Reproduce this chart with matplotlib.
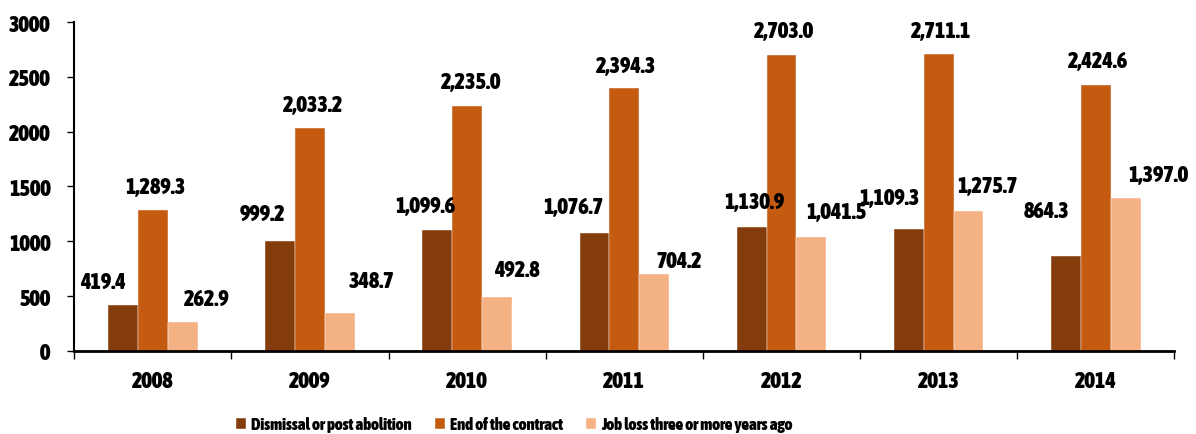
import numpy as np
import matplotlib
matplotlib.use("Agg")
from matplotlib import pyplot as plt
from matplotlib import font_manager

# pick a narrow/condensed bold font if one is installed
def is_bold(f):
    wt = f.weight
    if isinstance(wt, str):
        return wt in ("bold", "heavy", "black", "demibold", "semibold", "extra bold")
    return wt >= 600

fonts = font_manager.fontManager.ttflist
narrow_bold = [f for f in fonts if ("Narrow" in f.name or "Condensed" in f.name) and is_bold(f)]
narrow_any = [f for f in fonts if ("Narrow" in f.name or "Condensed" in f.name)]
fam_file = None
if narrow_bold:
    fam_file = narrow_bold[0].fname
elif narrow_any:
    fam_file = narrow_any[0].fname

years = ["2008", "2009", "2010", "2011", "2012", "2013", "2014"]
dismissal = [419.4, 999.2, 1099.6, 1076.7, 1130.9, 1109.3, 864.3]
end_contract = [1289.3, 2033.2, 2235.0, 2394.3, 2703.0, 2711.1, 2424.6]
job_loss = [262.9, 348.7, 492.8, 704.2, 1041.5, 1275.7, 1397.0]
series_names = ["Dismissal or post abolition", "End of the contract", "Job loss three or more years ago"]
colors = ["#843C0C", "#C55A11", "#F4B183"]

# label placement (pixels from top-centre of each bar), as in the original
lab_dx = [[-20, -18, -12, -21, 3, -19, -19],
          [3, 3, 4, 2, 2, 2, 2],
          [24, 32, 20, 25, 25, 19, 33]]
lab_dy = [[23, 27, 24, 26, 25, 31, 45],
          [23, 23, 24, 22, 24, 23, 24],
          [23, 32, 27, 13, 25, 25, 23]]

fs, lfs = 16, 12
if fam_file:
    def fp(size):
        return font_manager.FontProperties(fname=fam_file, size=size, weight="bold")
else:
    fs, lfs = 12, 9
    def fp(size):
        return font_manager.FontProperties(family="DejaVu Sans", size=size, weight="bold")

fig = plt.figure(figsize=(11.96, 4.35), dpi=100)
ax = fig.add_axes([0.062, 0.191, 0.92, 0.756])

x = np.arange(len(years))
w = 0.19
series = [dismissal, end_contract, job_loss]
for i, vals in enumerate(series):
    bars = ax.bar(x + (i - 1) * w, vals, w, color=colors[i], label=series_names[i],
                  edgecolor="white", linewidth=0.3)
    for j, (b, v) in enumerate(zip(bars, vals)):
        ax.annotate(f"{v:,.1f}", (b.get_x() + b.get_width() / 2, v),
                    xytext=(lab_dx[i][j], lab_dy[i][j]), textcoords="offset pixels",
                    ha="center", va="center", fontproperties=fp(fs), annotation_clip=False)

ax.set_xlim(-0.5, len(years) - 0.5)
ax.set_ylim(0, 3000)
ax.set_yticks(range(0, 3001, 500))
ax.set_yticklabels([str(t) for t in range(0, 3001, 500)], fontproperties=fp(fs))
ax.tick_params(axis='y', length=5, width=1, direction='out', pad=12)
ax.set_xticks(x)
ax.set_xticklabels(years, fontproperties=fp(fs))
ax.set_xticks(np.arange(-0.5, len(years)), minor=True)
ax.tick_params(axis='x', which='major', length=0, pad=14)
ax.tick_params(axis='x', which='minor', length=6, width=1)
for s in ["top", "right"]:
    ax.spines[s].set_visible(False)
ax.spines["left"].set_linewidth(1.5)
ax.spines["bottom"].set_linewidth(2)

fig.legend(loc="center left", bbox_to_anchor=(0.197, 0.022), ncol=3, frameon=False,
           prop=fp(lfs), handlelength=0.6, handleheight=0.6, columnspacing=1.4,
           handletextpad=0.3, borderpad=0, borderaxespad=0)

plt.savefig("out.png", dpi=100)
